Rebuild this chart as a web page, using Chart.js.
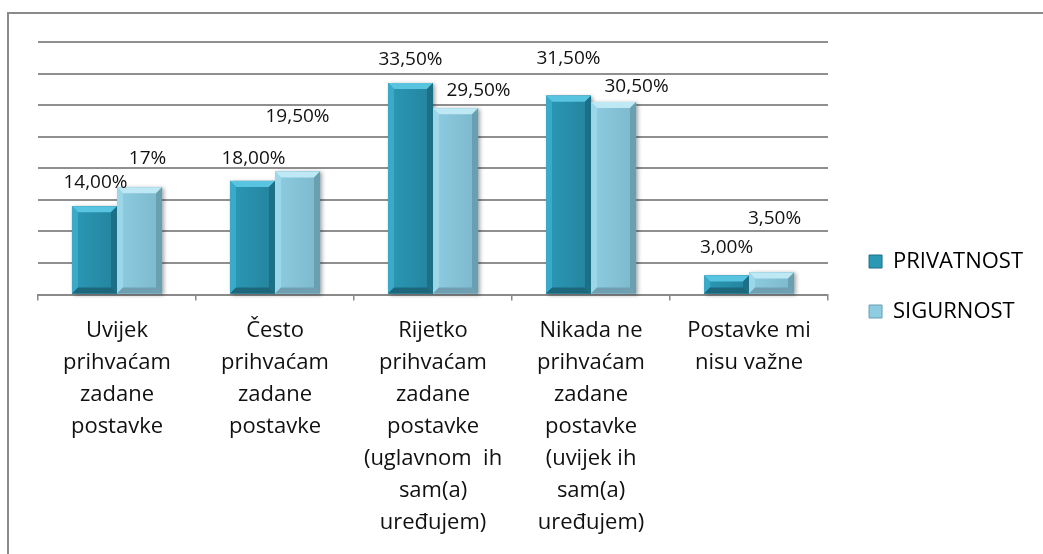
<!DOCTYPE html>
<html>
<head>
<meta charset="utf-8">
<script src="https://cdn.jsdelivr.net/npm/chart.js@4.4.0/dist/chart.umd.min.js"></script>
<style>
  html, body { margin: 0; padding: 0; background: #fff; }
  #wrap { position: relative; width: 1043px; height: 554px; overflow: hidden; }
  #okvir { position: absolute; left: 7px; top: 12px; width: 1100px; height: 600px;
           border-left: 2px solid #8a8a8a; border-top: 2px solid #8a8a8a; }
  canvas { position: absolute; left: 0; top: 0; }
</style>
</head>
<body>
<div id="wrap">
  <div id="okvir"></div>
  <canvas id="grafikon" width="1043" height="554"></canvas>
</div>
<script>
const kategorije = [
  ["Uvijek", "prihvaćam", "zadane", "postavke"],
  ["Često", "prihvaćam", "zadane", "postavke"],
  ["Rijetko", "prihvaćam", "zadane", "postavke", "(uglavnom  ih", "sam(a)", "uređujem)"],
  ["Nikada ne", "prihvaćam", "zadane", "postavke", "(uvijek ih", "sam(a)", "uređujem)"],
  ["Postavke mi", "nisu važne"]
];
const privatnost = [14, 18, 33.5, 31.5, 3];
const sigurnost = [17, 19.5, 29.5, 30.5, 3.5];
const privatnostOznake = ["14,00%", "18,00%", "33,50%", "31,50%", "3,00%"];
const sigurnostOznake = ["17%", "19,50%", "29,50%", "30,50%", "3,50%"];

// rucno pomaknute oznake kao u Excelu: [dx, koliko iznad vrha stupca]
const privatnostPomak = [[1, 24], [1, 22], [0, 23], [0, 37], [0, 28]];
const sigurnostPomak = [[8, 29], [0, 55], [23, 18], [23, 15], [3, 54]];

const boje = [
  { lice: "#2b99b6", liceD: "#24839d", vrh: "#58c4df", lijevo: "#3aaac8", desno: "#1d6f86", dno: "#1d677c" },
  { lice: "#8dcce1", liceD: "#7db8cc", vrh: "#bee8f4", lijevo: "#9bd6e9", desno: "#699faf", dno: "#6f9fb0" }
];

function poligon(ctx, tocke, boja) {
  ctx.beginPath();
  ctx.moveTo(tocke[0][0], tocke[0][1]);
  for (let i = 1; i < tocke.length; i++) ctx.lineTo(tocke[i][0], tocke[i][1]);
  ctx.closePath();
  ctx.fillStyle = boja;
  ctx.fill();
}

// sjena ispod stupaca
const sjena = {
  id: "sjena",
  beforeDatasetsDraw(chart) {
    const ctx = chart.ctx;
    ctx.save();
    ctx.shadowColor = "rgba(0,0,0,0.35)";
    ctx.shadowBlur = 4;
    ctx.shadowOffsetX = 2;
    ctx.shadowOffsetY = 1;
    chart.data.datasets.forEach((ds, i) => {
      chart.getDatasetMeta(i).data.forEach((el) => {
        ctx.fillStyle = boje[i].lice;
        ctx.fillRect(el.x - el.width / 2, el.y, el.width, el.base - el.y);
      });
    });
    ctx.restore();
  }
};

// "bevel" izgled stupaca
const kosina = {
  id: "kosina",
  afterDatasetsDraw(chart) {
    const ctx = chart.ctx;
    ctx.save();
    chart.data.datasets.forEach((ds, i) => {
      const b = boje[i];
      chart.getDatasetMeta(i).data.forEach((el) => {
        const l = el.x - el.width / 2, r = el.x + el.width / 2, t = el.y, d = el.base;
        const k = Math.min(6, (d - t) / 2, el.width / 4);
        const g = ctx.createLinearGradient(l, 0, r, 0);
        g.addColorStop(0, b.lice);
        g.addColorStop(1, b.liceD);
        ctx.fillStyle = g;
        ctx.fillRect(l, t, r - l, d - t);
        poligon(ctx, [[l, t], [r, t], [r - k, t + k], [l + k, t + k]], b.vrh);
        poligon(ctx, [[l, t], [l + k, t + k], [l + k, d - k], [l, d]], b.lijevo);
        poligon(ctx, [[r, t], [r, d], [r - k, d - k], [r - k, t + k]], b.desno);
        poligon(ctx, [[l, d], [l + k, d - k], [r - k, d - k], [r, d]], b.dno);
      });
    });
    ctx.restore();
  }
};

const oznake = {
  id: "oznake",
  afterDatasetsDraw(chart) {
    const ctx = chart.ctx;
    const tekstovi = [privatnostOznake, sigurnostOznake];
    const pomaci = [privatnostPomak, sigurnostPomak];
    ctx.save();
    ctx.font = "19px 'Open Sans'";
    ctx.fillStyle = "#111";
    ctx.textAlign = "center";
    ctx.textBaseline = "middle";
    chart.data.datasets.forEach((ds, i) => {
      chart.getDatasetMeta(i).data.forEach((el, j) => {
        ctx.fillText(tekstovi[i][j], el.x + pomaci[i][j][0], el.y - pomaci[i][j][1]);
      });
    });
    ctx.restore();
  }
};

const pomakLegende = {
  id: "pomakLegende",
  afterLayout(chart) {
    chart.legend.left += 13;
    chart.legend.right += 13;
    chart.legend.top -= 8;
    chart.legend.bottom -= 8;
  }
};

new Chart(document.getElementById("grafikon"), {
  type: "bar",
  data: {
    labels: kategorije,
    datasets: [
      { label: "PRIVATNOST", data: privatnost, backgroundColor: boje[0].lice, borderColor: boje[0].desno },
      { label: "SIGURNOST", data: sigurnost, backgroundColor: boje[1].lice, borderColor: boje[1].desno }
    ]
  },
  options: {
    responsive: false,
    animation: false,
    layout: { padding: { left: 38, top: 42, right: 23, bottom: 7 } },
    datasets: { bar: { categoryPercentage: 0.57, barPercentage: 1 } },
    plugins: {
      tooltip: { enabled: false },
      legend: {
        position: "right",
        labels: {
          boxWidth: 13,
          boxHeight: 13,
          padding: 28,
          color: "#111",
          font: { family: "'Open Sans'", size: 22 },
          generateLabels(chart) {
            return chart.data.datasets.map((ds, i) => ({
              text: ds.label,
              fillStyle: boje[i].lice,
              strokeStyle: boje[i].desno,
              lineWidth: 1,
              datasetIndex: i
            }));
          }
        }
      }
    },
    scales: {
      x: {
        grid: { drawOnChartArea: false, color: "#8a8a8a", lineWidth: 1.5, tickLength: 6, offset: true },
        border: { color: "#8a8a8a", width: 2 },
        ticks: {
          color: "#111",
          font: { family: "'Open Sans'", size: 22, lineHeight: 32 / 22 },
          padding: 14,
          maxRotation: 0,
          autoSkip: false
        }
      },
      y: {
        min: 0,
        max: 40,
        ticks: { display: false, stepSize: 5 },
        border: { display: false },
        grid: { drawTicks: false, color: "#8f8f8f", lineWidth: 2 }
      }
    }
  },
  plugins: [sjena, kosina, oznake, pomakLegende]
});
</script>
</body>
</html>
